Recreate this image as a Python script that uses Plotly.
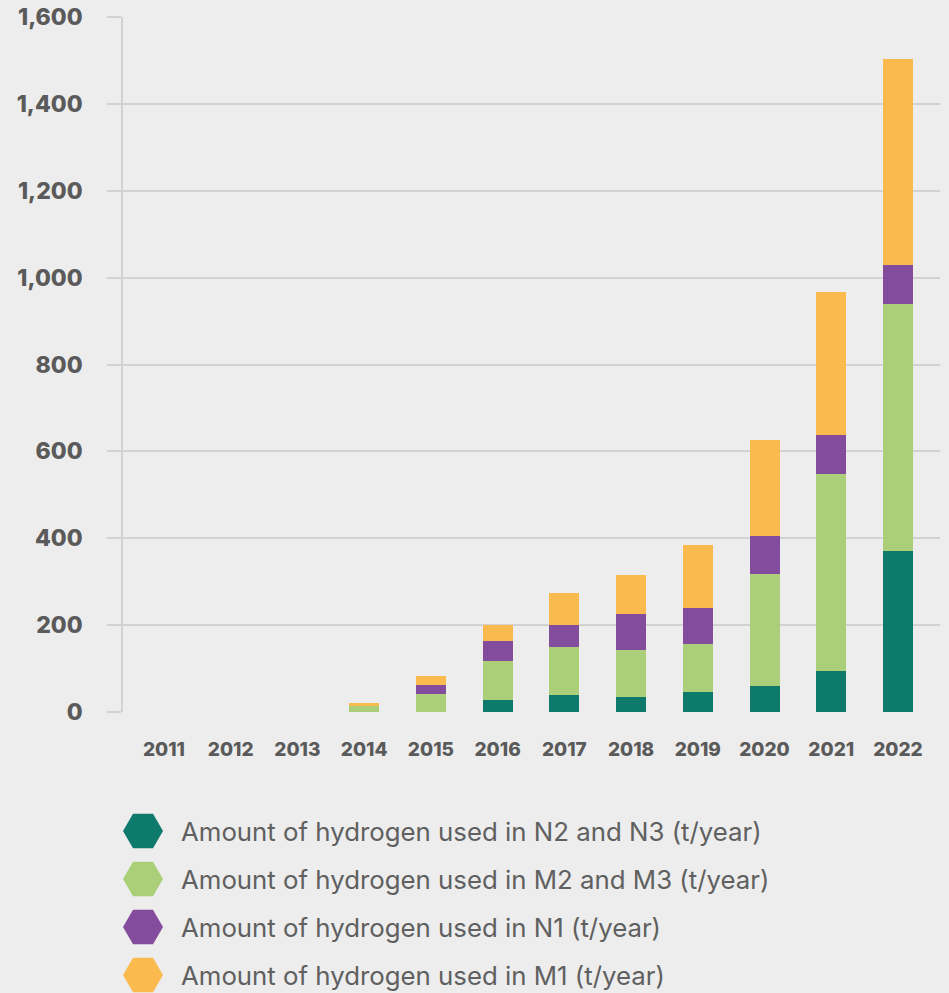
import plotly.graph_objects as go

years = ["2011", "2012", "2013", "2014", "2015", "2016", "2017", "2018", "2019", "2020", "2021", "2022"]

n2_n3 = [0, 0, 0, 0, 0, 28, 39, 34, 46, 60, 95, 370]
m2_m3 = [0, 0, 0, 14, 42, 90, 111, 109, 111, 257, 454, 570]
n1 = [0, 0, 0, 0, 21, 46, 50, 83, 83, 88, 88, 90]
m1 = [0, 0, 0, 7, 21, 37, 75, 90, 144, 222, 331, 473]

series_names = [
    "Amount of hydrogen used in N2 and N3 (t/year)",
    "Amount of hydrogen used in M2 and M3 (t/year)",
    "Amount of hydrogen used in N1 (t/year)",
    "Amount of hydrogen used in M1 (t/year)",
]
colors = ["#0e7a6c", "#abcf78", "#844c9c", "#fbba4e"]

y_ticks = [0, 200, 400, 600, 800, 1000, 1200, 1400, 1600]
y_ticktext = ["0", "200", "400", "600", "800", "1,000", "1,200", "1,400", "1,600"]

text_col = "#5a5a5a"
grid_col = "#d2d2d2"
bg = "#ededed"

fig = go.Figure()

for vals, name, col in zip([n2_n3, m2_m3, n1, m1], series_names, colors):
    fig.add_trace(go.Bar(x=list(range(len(years))), y=vals, name=name, marker=dict(color=col, line=dict(width=0)),
                         width=0.45, showlegend=False))

# hand-made legend with hexagon swatches on a hidden axis
leg_y = [162 - 48 * i for i in range(len(series_names))]
fig.add_trace(go.Scatter(x=[20] * len(series_names), y=leg_y, mode="markers",
                         marker=dict(symbol="hexagon2", size=40, color=colors, line=dict(width=0)),
                         xaxis="x2", yaxis="y2", showlegend=False, cliponaxis=False, hoverinfo="skip"))
for yy, name in zip(leg_y, series_names):
    fig.add_annotation(x=56, y=yy, xref="x2", yref="y2", text=name, showarrow=False, xanchor="left",
                       yanchor="middle", font=dict(family="Inter", size=25.8, color="#606060"))

fig.update_layout(
    barmode="stack",
    width=949, height=993,
    margin=dict(l=123, r=9, t=17, b=0, autoexpand=False),
    paper_bgcolor=bg, plot_bgcolor=bg,
    font=dict(family="Inter", color=text_col),
    xaxis=dict(domain=[0, 1], range=[-0.614, 11.63], tickvals=list(range(len(years))), ticktext=years,
               tickfont=dict(family="Inter", size=19, color=text_col, weight=800), automargin=False,
               showgrid=False, zeroline=False, ticks="", ticklabelstandoff=24, anchor="y"),
    yaxis=dict(domain=[(993 - 712) / 976, 1], range=[0, 1600], tickvals=y_ticks, ticktext=y_ticktext,
               tickfont=dict(family="Inter", size=23, color=text_col, weight=800), automargin=False,
               showgrid=True, gridcolor=grid_col, gridwidth=1.5, zeroline=False,
               showline=True, linecolor=grid_col, linewidth=1.5,
               ticks="outside", ticklen=14, tickcolor=grid_col, tickwidth=1.5, ticklabelstandoff=20),
    xaxis2=dict(domain=[0, 1], range=[0, 817], visible=False, anchor="y2", automargin=False),
    yaxis2=dict(domain=[0, 186 / 976], range=[0, 186], visible=False, anchor="x2", automargin=False),
)

# drop the page's default body margin so the figure sits at the top-left corner
fig.write_html("out.html", config={"displayModeBar": False},
               post_script="document.body.style.margin='0px';")
